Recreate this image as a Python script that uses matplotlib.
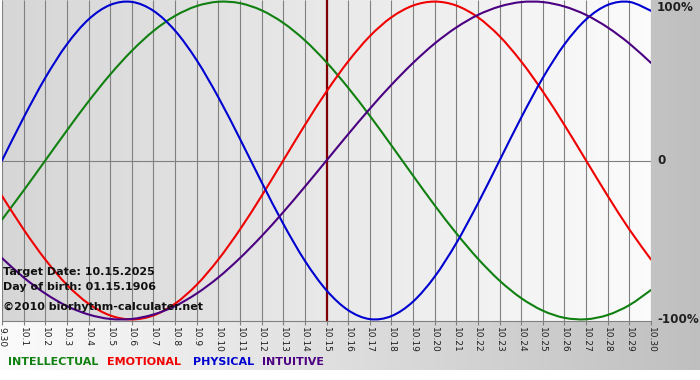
import numpy as np
import matplotlib
matplotlib.use('Agg')
import matplotlib.pyplot as plt
from matplotlib.path import Path
from matplotlib.patches import PathPatch

# ---------------- data ----------------
dates = ['9.30'] + ['10.%d' % d for d in range(1, 31)]

physical = [0.000, 0.270, 0.520, 0.731, 0.888, 0.979, 0.998, 0.942, 0.817, 0.631,
            0.398, 0.136, -0.136, -0.398, -0.631, -0.817, -0.942, -0.998, -0.979, -0.888,
            -0.731, -0.520, -0.270, 0.000, 0.270, 0.520, 0.731, 0.888, 0.979, 0.998, 0.942]

emotional = [-0.223, -0.434, -0.623, -0.782, -0.901, -0.975, -1.000, -0.975, -0.901, -0.782,
             -0.623, -0.434, -0.223, 0.000, 0.223, 0.434, 0.623, 0.782, 0.901, 0.975,
             1.000, 0.975, 0.901, 0.782, 0.623, 0.434, 0.223, 0.000, -0.223, -0.434, -0.623]

intellectual = [-0.372, -0.189, 0.000, 0.189, 0.372, 0.541, 0.690, 0.815, 0.910, 0.972,
                0.999, 0.990, 0.945, 0.866, 0.756, 0.618, 0.458, 0.282, 0.095, -0.095,
                -0.282, -0.458, -0.618, -0.756, -0.866, -0.945, -0.990, -0.999, -0.972, -0.910, -0.815]

intuitive = [-0.614, -0.736, -0.837, -0.916, -0.969, -0.997, -0.997, -0.969, -0.916, -0.837,
             -0.736, -0.614, -0.476, -0.325, -0.165, 0.000, 0.165, 0.325, 0.476, 0.614,
             0.736, 0.837, 0.916, 0.969, 0.997, 0.997, 0.969, 0.916, 0.837, 0.736, 0.614]

series_names = ['INTELLECTUAL', 'EMOTIONAL', 'PHYSICAL', 'INTUITIVE']
target_day = '10.15'
info_lines = ['Target Date: 10.15.2025', 'Day of birth: 01.15.1906',
              '\u00a92010 biorhythm-calculater.net']
y_labels = ['100%', '0', '-100%']

# ---------------- styling ----------------
W, H = 700, 380
C_GREEN = '#108010'
C_RED = '#f00000'
C_BLUE = '#0000d0'
C_PURPLE = '#4b0082'
GRID = '#808080'


def smooth_line(ax, xs, ys, color, lw=1.5, zorder=3):
    """Draw a smooth curve through the data points (Catmull-Rom as Bezier path)."""
    xs = np.asarray(xs, float)
    ys = np.asarray(ys, float)
    n = len(xs)
    verts = [(xs[0], ys[0])]
    codes = [Path.MOVETO]
    for i in range(n - 1):
        i0 = max(i - 1, 0)
        i3 = min(i + 2, n - 1)
        c1 = (xs[i] + (xs[i + 1] - xs[i0]) / 6, ys[i] + (ys[i + 1] - ys[i0]) / 6)
        c2 = (xs[i + 1] - (xs[i3] - xs[i]) / 6, ys[i + 1] - (ys[i3] - ys[i]) / 6)
        verts += [c1, c2, (xs[i + 1], ys[i + 1])]
        codes += [Path.CURVE4] * 3
    patch = PathPatch(Path(verts, codes), facecolor='none', edgecolor=color,
                      lw=lw, zorder=zorder, capstyle='round', joinstyle='round')
    ax.add_patch(patch)


fig = plt.figure(figsize=(W / 100, H / 100), dpi=100, facecolor='white')

# figure-wide horizontal gradient (white -> grey)
bg = fig.add_axes([0, 10 / H, 1, 1 - 10 / H])
bg.axis('off')
g = np.linspace(0.985, 0.75, 256)
bg.imshow(np.dstack([g, g, g]), aspect='auto', extent=[0, 1, 0, 1])
bg.set_xlim(0, 1)
bg.set_ylim(0, 1)

ax = fig.add_axes([2 / W, (H - 321) / H, 649 / W, 321 / H])
x = np.arange(len(dates))
YL = 1.01
ax.set_xlim(x[0], x[-1])
ax.set_ylim(-YL, YL)

# plot-area gradient (grey -> white)
g2 = np.linspace(0.84, 0.985, 256)
ax.imshow(np.dstack([g2, g2, g2]), aspect='auto',
          extent=[x[0], x[-1], -YL, YL], zorder=0)

ax.vlines(x, -YL, YL, colors=GRID, lw=0.8, zorder=1)
ax.axhline(0, color=GRID, lw=0.8, zorder=1)

ti = dates.index(target_day)
ax.axvline(x[ti], color='#800000', lw=1.6, zorder=2)

smooth_line(ax, x, intellectual, C_GREEN)
smooth_line(ax, x, emotional, C_RED)
smooth_line(ax, x, physical, C_BLUE)
smooth_line(ax, x, intuitive, C_PURPLE)

for s in ['top', 'left', 'right']:
    ax.spines[s].set_visible(False)
ax.spines['bottom'].set_color(GRID)
ax.spines['bottom'].set_linewidth(0.8)

ax.set_yticks([])
ax.set_xticks(x)
ax.set_xticklabels(dates, rotation=270, fontsize=6.5, color='#202020')
ax.tick_params(axis='x', length=3, width=0.8, color=GRID, pad=1.5)

# right-side percent labels
lx = 1 + 6 / 649
for val, lab in zip([0.965, 0.0, -1.0], y_labels):
    ax.text(lx, val, lab, transform=ax.get_yaxis_transform(), ha='left', va='center',
            fontsize=8.6, fontweight='bold', color='#202020', clip_on=False)

# info text over the plot
for yp, t in zip([272, 287, 307], info_lines):
    fig.text(3 / W, (H - yp) / H, t, ha='left', va='center', fontsize=8,
             fontweight='bold', color='#111111', zorder=10)

# legend row
for xp, name, col in zip([8, 107, 193, 262], series_names,
                         [C_GREEN, C_RED, C_BLUE, C_PURPLE]):
    fig.text(xp / W, (H - 362) / H, name, ha='left', va='center', fontsize=8,
             fontweight='bold', color=col)

fig.savefig('out.png', dpi=100, facecolor='white')
